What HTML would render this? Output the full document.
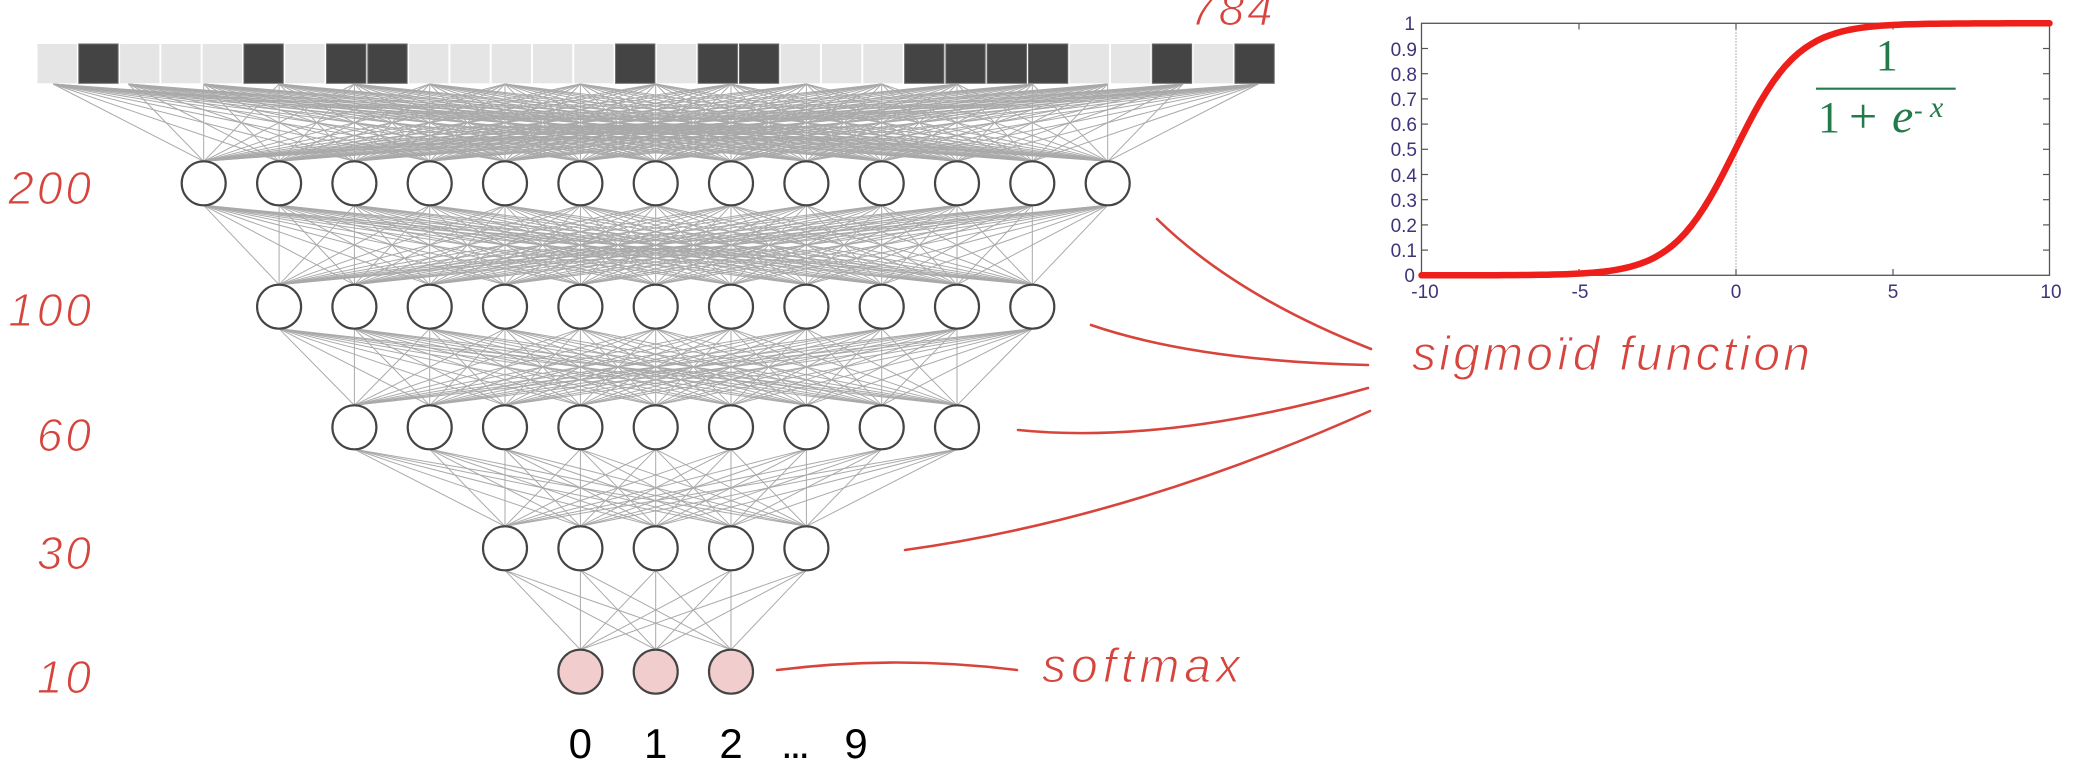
<!DOCTYPE html>
<html>
<head>
<meta charset="utf-8">
<style>
  html, body { margin: 0; padding: 0; background: #ffffff; }
  svg { display: block; }
  .hand { font-family: "Liberation Sans", sans-serif; font-style: italic; fill: #d6453d; stroke: #ffffff; stroke-width: 1.1px; }
  .tick { font-family: "Liberation Sans", sans-serif; font-size: 19px; fill: #3f3379; }
  .frm { font-family: "Liberation Serif", serif; fill: #237a4b; }
</style>
</head>
<body>
<svg id="root" xmlns="http://www.w3.org/2000/svg" width="2074" height="778" viewBox="0 0 2074 778">
  <rect x="0" y="0" width="2074" height="778" fill="#ffffff"/>
  <g id="squares"></g>
  <g id="lines" stroke="#a9a9a9" stroke-width="1" fill="none"></g>
  <g id="nodes"></g>

  <!-- left layer labels -->
  <text class="hand" x="94" y="204" font-size="46" text-anchor="end" letter-spacing="3">200</text>
  <text class="hand" x="94" y="326" font-size="46" text-anchor="end" letter-spacing="3">100</text>
  <text class="hand" x="94" y="451" font-size="46" text-anchor="end" letter-spacing="3">60</text>
  <text class="hand" x="94" y="569" font-size="46" text-anchor="end" letter-spacing="3">30</text>
  <text class="hand" x="94" y="693" font-size="46" text-anchor="end" letter-spacing="3">10</text>
  <text class="hand" x="1190" y="25" font-size="46" letter-spacing="3">784</text>

  <!-- output labels -->
  <g font-family="'Liberation Sans', sans-serif" font-size="42" fill="#000" text-anchor="middle">
    <text x="580.3" y="758">0</text>
    <text x="655.7" y="758">1</text>
    <text x="731" y="758">2</text>
    <text x="794" y="758" letter-spacing="-3">...</text>
    <text x="856" y="758">9</text>
  </g>

  <!-- red annotation curves -->
  <g stroke="#d8443c" stroke-width="2.6" fill="none" stroke-linecap="round">
    <path d="M1157,219 Q1236,296 1371,349"/>
    <path d="M1091,325 Q1196,361 1368,365"/>
    <path d="M1018,430 Q1167,445 1368,388"/>
    <path d="M905,550 Q1129,519 1370,411"/>
    <path d="M777,670 Q897,655 1017,670"/>
  </g>
  <text class="hand" x="1412" y="370" font-size="48" textLength="398" lengthAdjust="spacing">sigmoïd function</text>
  <text class="hand" x="1042" y="682" font-size="48" textLength="198" lengthAdjust="spacing">softmax</text>

  <!-- chart -->
  <g id="chart">
    <line x1="1736" y1="23.3" x2="1736" y2="275.3" stroke="#9a9a9a" stroke-width="1" stroke-dasharray="1.5 1.5"/>
    <g id="ticks" stroke="#555" stroke-width="1.2"></g>
    <rect x="1421.5" y="23.3" width="628" height="252" fill="none" stroke="#555" stroke-width="1.3"/>
    <g class="tick" text-anchor="end">
      <text x="1415" y="30">1</text>
      <text x="1417" y="56">0.9</text>
      <text x="1417" y="81">0.8</text>
      <text x="1417" y="106">0.7</text>
      <text x="1417" y="131">0.6</text>
      <text x="1417" y="156">0.5</text>
      <text x="1417" y="182">0.4</text>
      <text x="1417" y="207">0.3</text>
      <text x="1417" y="232">0.2</text>
      <text x="1417" y="257">0.1</text>
      <text x="1415" y="282">0</text>
    </g>
    <g class="tick" text-anchor="middle">
      <text x="1425" y="298">-10</text>
      <text x="1580" y="298">-5</text>
      <text x="1736" y="298">0</text>
      <text x="1893" y="298">5</text>
      <text x="2051" y="298">10</text>
    </g>
    <path id="sig" d="" fill="none" stroke="#ee1e1a" stroke-width="6.5" stroke-linecap="round" stroke-linejoin="round"/>
    <!-- formula -->
    <text class="frm" x="1886.7" y="70" font-size="44" text-anchor="middle">1</text>
    <line x1="1816" y1="88.7" x2="1955.7" y2="88.7" stroke="#237a4b" stroke-width="2.2"/>
    <text class="frm" x="1818" y="132" font-size="44">1</text>
    <text class="frm" x="1849" y="133" font-size="50">+</text>
    <text class="frm" x="1892" y="132" font-size="48" font-style="italic">e</text>
    <text class="frm" x="1914" y="119" font-size="26">-</text>
    <text class="frm" x="1930" y="117" font-size="30" font-style="italic">x</text>
  </g>
</svg>

<script>
(function(){
  var NS = 'http://www.w3.org/2000/svg';
  function el(tag, attrs, parent){
    var e = document.createElementNS(NS, tag);
    for (var k in attrs) e.setAttribute(k, attrs[k]);
    parent.appendChild(e);
    return e;
  }
  // input squares
  var sq = document.getElementById('squares');
  var dark = {1:1,5:1,7:1,8:1,14:1,16:1,17:1,21:1,22:1,23:1,24:1,27:1,29:1};
  for (var i = 0; i < 30; i++) {
    var x = 37.5 + 41.29 * i;
    if (dark[i]) el('rect', {x:x, y:44, width:39.3, height:39.3, fill:'#444444', stroke:'#6a6a6a', 'stroke-width':1}, sq);
    else el('rect', {x:x, y:44, width:39.3, height:39.3, fill:'#e5e5e5'}, sq);
  }
  var c = 655.7, s = 75.33, r = 22;
  var layers = [[13,183.3],[11,306.7],[9,427.3],[5,548.3],[3,671.7]];
  var lines = document.getElementById('lines');
  function ln(x1,y1,x2,y2){ el('line', {x1:x1.toFixed(1), y1:y1, x2:x2.toFixed(1), y2:y2}, lines); }
  // input -> first layer
  for (var k = -8; k <= 8; k++) {
    for (var j = 0; j < 13; j++) {
      ln(c + s*k, 84, c + s*(j-6), layers[0][1] - r);
    }
  }
  for (var li = 0; li < layers.length - 1; li++) {
    var n1 = layers[li][0], y1 = layers[li][1], n2 = layers[li+1][0], y2 = layers[li+1][1];
    for (var a = 0; a < n1; a++) {
      for (var b = 0; b < n2; b++) {
        ln(c + s*(a-(n1-1)/2), y1 + r, c + s*(b-(n2-1)/2), y2 - r);
      }
    }
  }
  var nodes = document.getElementById('nodes');
  for (var li = 0; li < layers.length; li++) {
    var n = layers[li][0], y = layers[li][1];
    for (var a = 0; a < n; a++) {
      el('circle', {cx:(c + s*(a-(n-1)/2)).toFixed(1), cy:y, r:r,
        fill: li === layers.length-1 ? '#f2cdcd' : '#ffffff',
        stroke:'#444444', 'stroke-width':2.2}, nodes);
    }
  }
  // chart ticks
  var tg = document.getElementById('ticks');
  for (var v = 1; v <= 9; v++) {
    var y = 275.3 - v*25.2;
    el('line', {x1:1421.5, y1:y, x2:1428, y2:y}, tg);
    el('line', {x1:2049.5, y1:y, x2:2043, y2:y}, tg);
  }
  [1579, 1736, 1893].forEach(function(x){
    el('line', {x1:x, y1:23.3, x2:x, y2:29.5}, tg);
    el('line', {x1:x, y1:275.3, x2:x, y2:269}, tg);
  });
  // sigmoid
  var d = '';
  for (var t = -10; t <= 10.0001; t += 0.2) {
    var px = 1421.5 + (t + 10) * 31.4;
    var py = 275.3 - 252 / (1 + Math.exp(-t));
    d += (d ? ' L' : 'M') + px.toFixed(1) + ',' + py.toFixed(1);
  }
  document.getElementById('sig').setAttribute('d', d);
})();
</script>
</body>
</html>
